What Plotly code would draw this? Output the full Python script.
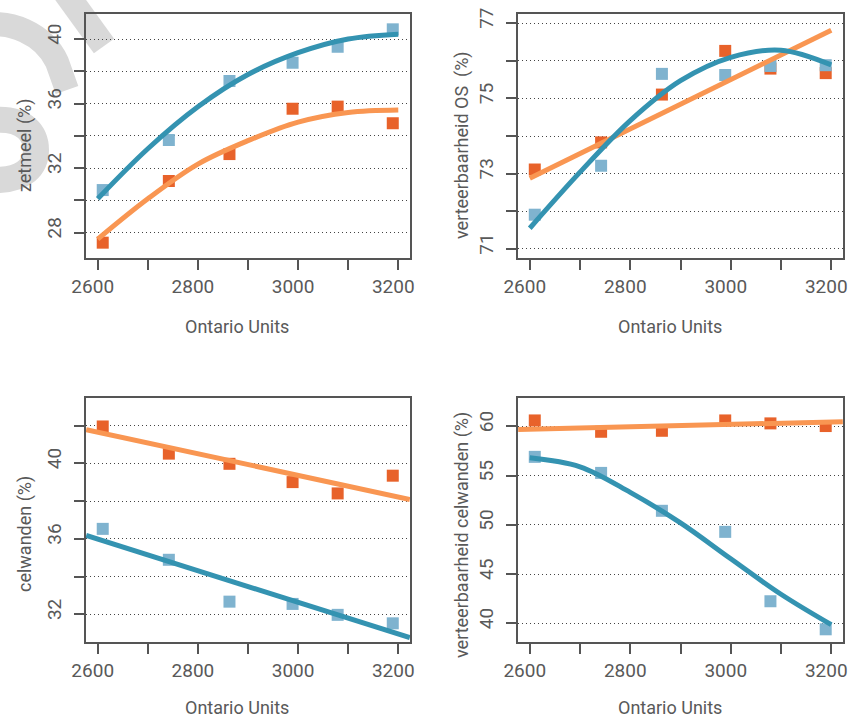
import plotly.graph_objects as go

W, H = 853, 719

# ---------------- data ----------------
x_obs = [2610, 2742, 2863, 2989, 3079, 3189]
x_curve = [2600, 2700, 2800, 2900, 3000, 3100, 3200]
x_edge = [2577, 3223]

# zetmeel (%)
zet_blue = [30.64, 33.74, 37.40, 38.53, 39.52, 40.60]
zet_orange = [27.38, 31.20, 32.87, 35.68, 35.81, 34.78]
zet_blue_fit = [30.10, 33.20, 35.80, 37.80, 39.15, 40.00, 40.30]
zet_orange_fit = [27.60, 30.10, 32.25, 33.70, 34.85, 35.45, 35.60]

# verteerbaarheid OS (%)
os_blue = [71.91, 73.21, 75.65, 75.62, 75.86, 75.88]
os_orange = [73.11, 73.83, 75.10, 76.26, 75.79, 75.67]
os_blue_fit = [71.55, 73.04, 74.41, 75.47, 76.09, 76.28, 75.89]
os_orange_x = [2600, 3200]
os_orange_fit = [72.88, 76.81]

# celwanden (%)
cw_blue = [36.53, 34.89, 32.67, 32.55, 31.97, 31.52]
cw_orange = [41.96, 40.52, 39.98, 39.01, 38.41, 39.35]
cw_blue_fit = [36.18, 30.76]
cw_orange_fit = [41.79, 38.09]

# verteerbaarheid celwanden (%)
vc_blue = [56.91, 55.28, 51.43, 49.29, 42.24, 39.39]
vc_orange = [60.61, 59.46, 59.56, 60.61, 60.31, 60.04]
vc_blue_fit = [56.82, 55.90, 53.30, 50.20, 46.55, 42.95, 39.86]
vc_orange_fit = [59.70, 60.48]

x_ticks = [2600, 2800, 3000, 3200]
x_title = "Ontario Units"
y_titles = ["zetmeel (%)", "verteerbaarheid OS  (%)", "celwanden (%)",
            "verteerbaarheid celwanden (%)"]

# ---------------- style ----------------
C_BLUE_PT = "#7fb3cf"
C_BLUE_LN = "#3493b1"
C_OR_PT = "#e8622a"
C_OR_LN = "#f99652"
TXT = "#595959"
AX = "#555555"
FONT = "Roboto"


def px2paper(x, y):
    return x / W, 1 - y / H


# panel frames in pixels (left, top, right, bottom)
frames = [(86, 14, 410, 258), (518, 14, 843, 258),
          (86, 398, 410, 642), (518, 398, 843, 642)]
yranges = [[26.43, 41.55], [70.76, 77.24], [30.53, 43.47], [38.10, 62.89]]
ymajor = [4, 2, 4, 5]
ytick0 = [28, 71, 32, 40]
yminor = [2, 1, 2, None]

fig = go.Figure()

panels = [
    (zet_blue, zet_orange, (x_curve, zet_blue_fit), (x_curve, zet_orange_fit)),
    (os_blue, os_orange, (x_curve, os_blue_fit), (os_orange_x, os_orange_fit)),
    (cw_blue, cw_orange, (x_edge, cw_blue_fit), (x_edge, cw_orange_fit)),
    (vc_blue, vc_orange, (x_curve, vc_blue_fit), (x_edge, vc_orange_fit)),
]

for i, (bpts, opts, bfit, ofit) in enumerate(panels):
    n = "" if i == 0 else str(i + 1)
    xa, ya = "x" + n, "y" + n
    fig.add_trace(go.Scatter(x=x_obs, y=opts, mode="markers", xaxis=xa, yaxis=ya,
                             marker=dict(symbol="square", size=12, color=C_OR_PT),
                             showlegend=False, hoverinfo="skip"))
    fig.add_trace(go.Scatter(x=x_obs, y=bpts, mode="markers", xaxis=xa, yaxis=ya,
                             marker=dict(symbol="square", size=12, color=C_BLUE_PT),
                             showlegend=False, hoverinfo="skip"))
    fig.add_trace(go.Scatter(x=ofit[0], y=ofit[1], mode="lines", xaxis=xa, yaxis=ya,
                             line=dict(color=C_OR_LN, width=5, shape="spline", smoothing=1),
                             showlegend=False, hoverinfo="skip"))
    fig.add_trace(go.Scatter(x=bfit[0], y=bfit[1], mode="lines", xaxis=xa, yaxis=ya,
                             line=dict(color=C_BLUE_LN, width=5, shape="spline", smoothing=1),
                             showlegend=False, hoverinfo="skip"))

    l, t, r, b = frames[i]
    xd = [l / W, r / W]
    yd = [1 - b / H, 1 - t / H]
    common = dict(showline=True, mirror=True, linecolor=AX, linewidth=1.5,
                  ticks="outside", ticklen=10, tickwidth=1.5, tickcolor=AX,
                  zeroline=False, automargin=False,
                  tickfont=dict(family=FONT, size=19, color=TXT))
    fig.layout["xaxis" + n] = dict(
        domain=xd, range=[2576.6, 3223.4], anchor=ya,
        tickmode="array", tickvals=x_ticks, showgrid=False,
        minor=dict(tickmode="linear", tick0=2600, dtick=100, ticks="outside",
                   ticklen=10, tickwidth=1.5, tickcolor=AX, showgrid=False),
        ticklabelstandoff=0, ticklabelshift=-5, **common)
    ydict = dict(domain=yd, range=yranges[i], anchor=xa,
                 tickmode="linear", tick0=ytick0[i], dtick=ymajor[i], tickangle=-90,
                 showgrid=True, gridcolor="#444444", gridwidth=1, griddash="1px,3px",
                 ticklabelstandoff=6, ticklabelshift=-2, **common)
    if yminor[i]:
        ydict["minor"] = dict(tickmode="linear", tick0=ytick0[i], dtick=yminor[i],
                              ticks="outside", ticklen=10, tickwidth=1.5, tickcolor=AX,
                              showgrid=True, gridcolor="#444444", gridwidth=1,
                              griddash="1px,3px")
    fig.layout["yaxis" + n] = ydict

# axis titles as annotations
title_font = dict(family=FONT, size=18, color=TXT)
xt_pos = [(237, 327), (670, 327), (237, 707), (670, 707)]
yt_pos = [(25, 145), (462, 145), (25, 534), (462, 535)]
for i in range(4):
    xp, yp = px2paper(*xt_pos[i])
    fig.add_annotation(x=xp, y=yp, xref="paper", yref="paper", text=x_title,
                       showarrow=False, font=title_font, xanchor="center", yanchor="middle")
    xp, yp = px2paper(*yt_pos[i])
    fig.add_annotation(x=xp, y=yp, xref="paper", yref="paper", text=y_titles[i],
                       showarrow=False, font=title_font, textangle=-90,
                       xanchor="center", yanchor="middle")


# light grey watermark strokes in the top-left corner (decoration)
def pth(cmds):
    out = []
    for c in cmds:
        if isinstance(c, str):
            out.append(c)
        else:
            xp, yp = px2paper(*c)
            out.append(f"{xp:.5f},{yp:.5f}")
    return " ".join(out)


WM = "#d9d9d9"
wm_paths = [
    (pth(["M", (62, -12), "L", (104, 46)]), 25),
    (pth(["M", (-25, 28), "C", (10, 16), (45, 36), (57, 62), "L", (67, 90)]), 24),
    (pth(["M", (-5, 120), "C", (25, 118), (36, 134), (36, 150),
          "C", (36, 166), (25, 180), (-5, 180)]), 26),
]
for p, wdt in wm_paths:
    fig.add_shape(type="path", path=p, xref="paper", yref="paper", layer="below",
                  line=dict(color=WM, width=wdt))

fig.update_layout(width=W, height=H, margin=dict(l=0, r=0, t=0, b=0),
                  paper_bgcolor="white", plot_bgcolor="rgba(0,0,0,0)",
                  showlegend=False)

fig.write_html("out.html", config={"displayModeBar": False},
               post_script="document.body.style.margin='0';"
                           "document.body.style.padding='0';")
